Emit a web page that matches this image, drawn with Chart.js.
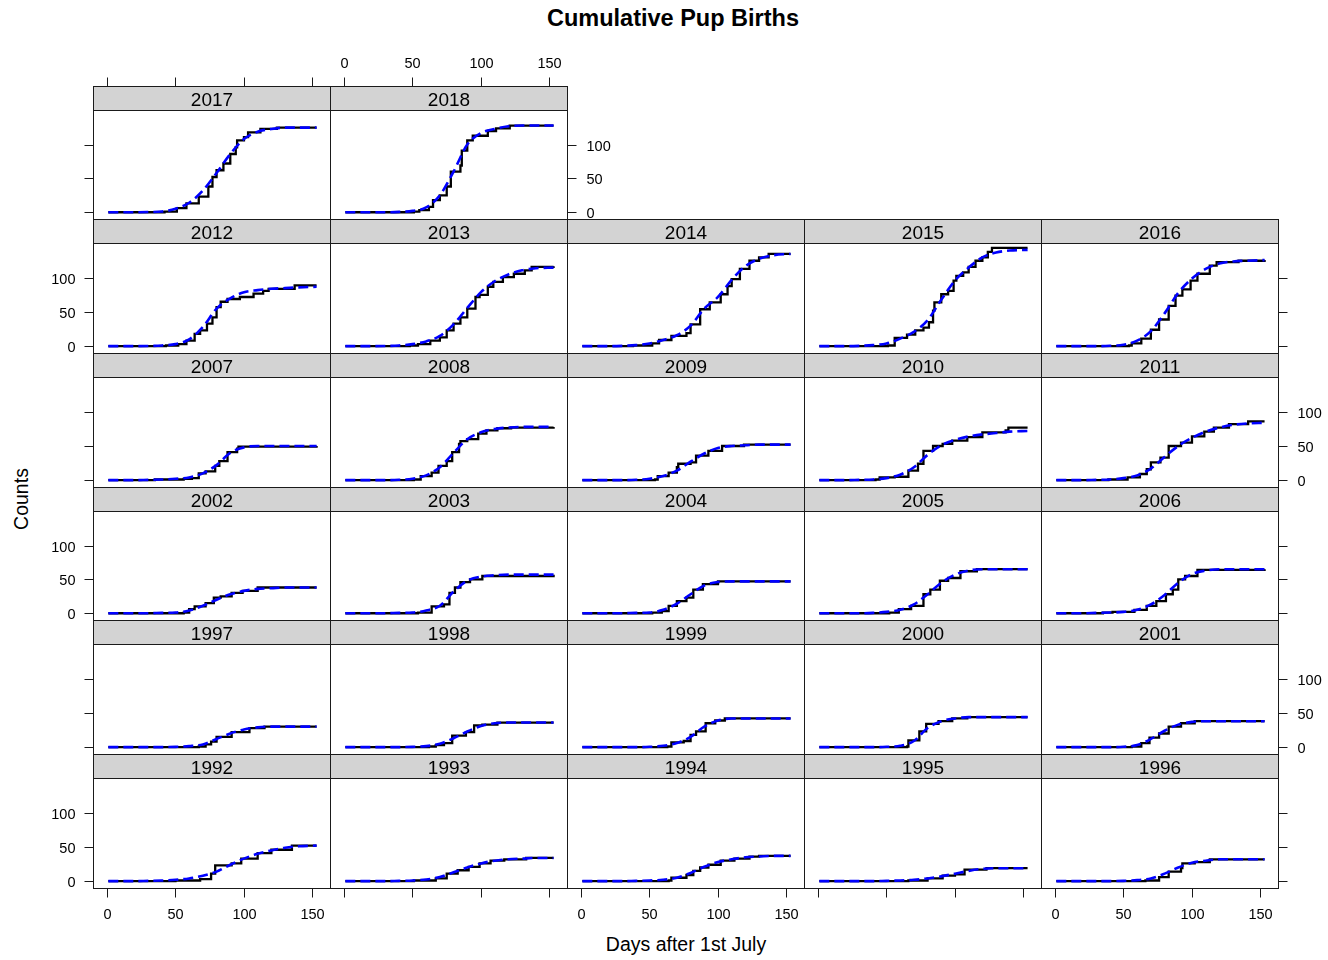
<!DOCTYPE html>
<html>
<head>
<meta charset="utf-8">
<script src="https://cdn.jsdelivr.net/npm/chart.js@4.4.1/dist/chart.umd.min.js"></script>
<style>
  body { margin: 0; background: #fff; width: 1328px; height: 960px; position: relative; overflow: hidden;
         font-family: 'Liberation Sans', Arial, sans-serif; color: #000; }
  canvas.pan { position: absolute; }
  .lbl { position: absolute; white-space: nowrap; line-height: 1; }
  #title { left: 673px; top: 7px; transform: translateX(-50%); font-size: 23.5px; font-weight: bold; }
  #xlab { left: 686px; top: 935px; transform: translateX(-50%); font-size: 19.5px; }
  #ylab { left: 22px; top: 499px; transform: translate(-50%, -50%) rotate(-90deg); font-size: 19.5px; }
</style>
</head>
<body>
<div id="title" class="lbl">Cumulative Pup Births</div>
<div id="xlab" class="lbl">Days after 1st July</div>
<div id="ylab" class="lbl">Counts</div>
<script>
// Jours où la courbe ajustée est lue
const fitDays = [1, 10, 20, 30, 40, 50, 60, 70, 80, 90, 100, 110, 120, 130, 140, 153];

// Naissances cumulées observées : [jour, total] à chaque marche
const obs2017 = [[1,0],[42,1],[51,6],[58,13],[67,23],[74,38],[77,52],[80,62],[85,72],[90,86],[94,96],[95,106],[100,111],[103,118],[112,123],[124,125],[153,125]];
const obs2018 = [[1,0],[51,1],[55,3],[62,8],[65,18],[70,25],[75,38],[78,60],[85,69],[86,91],[90,106],[94,113],[105,120],[111,124],[121,128],[153,128]];
const obs2012 = [[1,0],[43,1],[52,3],[58,8],[64,18],[68,23],[73,33],[77,42],[80,57],[83,65],[88,69],[97,72],[107,77],[114,81],[118,84],[137,89],[153,89]];
const obs2013 = [[1,0],[48,1],[54,3],[63,8],[70,13],[75,23],[80,33],[85,42],[90,55],[96,72],[99,75],[105,87],[109,94],[116,101],[124,106],[132,111],[137,116],[153,117]];
const obs2014 = [[1,0],[38,1],[52,4],[57,9],[66,15],[77,19],[80,32],[87,54],[94,64],[102,76],[107,88],[110,98],[116,113],[123,125],[130,130],[137,135],[153,135]];
const obs2015 = [[1,0],[51,1],[56,12],[65,17],[71,23],[77,27],[81,35],[84,52],[85,64],[90,76],[95,81],[99,96],[101,103],[106,108],[110,116],[115,125],[120,130],[124,138],[127,144],[153,144]];
const obs2016 = [[1,0],[54,1],[56,4],[63,11],[70,24],[76,39],[83,59],[88,74],[93,83],[99,96],[104,106],[113,118],[118,123],[134,125],[153,126]];
const obs2007 = [[1,0],[35,1],[56,2],[62,3],[67,10],[72,13],[79,21],[82,28],[88,41],[95,46],[96,49],[153,50]];
const obs2008 = [[1,0],[51,1],[56,6],[64,11],[69,21],[75,28],[79,41],[84,53],[85,57],[90,60],[98,68],[104,73],[112,76],[122,77],[153,78]];
const obs2009 = [[1,0],[54,1],[56,6],[64,11],[70,19],[71,24],[80,26],[84,36],[93,43],[103,50],[119,52],[153,52]];
const obs2010 = [[1,0],[42,1],[45,4],[56,5],[66,14],[73,24],[77,43],[84,50],[91,53],[98,58],[109,63],[120,70],[137,73],[139,77],[153,77]];
const obs2011 = [[1,0],[39,1],[53,4],[62,9],[67,16],[70,26],[77,33],[83,50],[92,55],[100,64],[109,71],[116,77],[127,82],[141,86],[153,86]];
const obs2002 = [[1,0],[56,1],[60,6],[64,10],[72,15],[78,23],[83,25],[91,30],[99,33],[110,38],[153,38]];
const obs2003 = [[1,0],[54,1],[64,10],[73,13],[77,30],[81,38],[85,46],[92,50],[101,55],[153,57]];
const obs2004 = [[1,0],[52,1],[59,3],[64,11],[70,18],[77,23],[82,35],[89,43],[100,47],[153,47]];
const obs2005 = [[1,0],[52,1],[59,6],[68,11],[77,28],[82,35],[89,48],[95,52],[104,62],[116,65],[153,65]];
const obs2006 = [[1,0],[35,1],[42,2],[58,5],[67,11],[74,18],[81,28],[86,35],[90,50],[95,55],[104,64],[153,65]];
const obs1997 = [[1,0],[67,1],[72,4],[76,8],[80,15],[91,22],[104,28],[115,30],[153,30]];
const obs1998 = [[1,0],[62,1],[67,3],[73,6],[79,17],[89,22],[95,32],[101,33],[112,36],[153,36]];
const obs1999 = [[1,0],[63,1],[66,7],[75,9],[80,18],[84,23],[91,35],[98,39],[105,42],[153,42]];
const obs2000 = [[1,0],[65,1],[66,10],[74,23],[79,34],[88,38],[98,42],[109,44],[153,44]];
const obs2001 = [[1,0],[56,1],[63,6],[69,14],[76,20],[83,30],[92,35],[102,38],[153,38]];
const obs1992 = [[1,0],[50,1],[68,3],[76,11],[79,23],[91,26],[98,33],[110,41],[120,46],[135,52],[153,52]];
const obs1993 = [[1,0],[51,1],[67,4],[75,11],[83,16],[91,21],[99,26],[107,30],[117,32],[133,34],[153,34]];
const obs1994 = [[1,0],[64,1],[66,5],[77,9],[82,15],[87,20],[93,24],[102,30],[112,33],[123,36],[130,37],[153,37]];
const obs1995 = [[1,0],[66,1],[80,4],[91,8],[100,10],[107,17],[123,19],[153,19]];
const obs1996 = [[1,0],[66,1],[76,6],[83,14],[92,19],[93,26],[102,28],[113,32],[153,32]];

// Courbe ajustée (tirets bleus), une valeur par élément de fitDays
const fit2017 = [0,0,0,0.3,1,5,14,32,58,86,108,119,123,125,125,125];
const fit2018 = [0,0,0,0,0.5,2,7,25,60,100,117,123,127,128,128,128];
const fit2012 = [0,0,0,0.3,1,3,10,28,55,70,79,82,84,85,86,87];
const fit2013 = [0,0,0,0.3,1,3,7,15,32,56,79,95,105,111,114,115];
const fit2014 = [0,0,0,0.5,1.5,4,9,16,30,55,72,97,117,128,133,135];
const fit2015 = [0,0,0,0.5,1.5,4,11,21,38,68,96,115,130,137,140,141];
const fit2016 = [0,0,0,0,0.5,2,8,22,48,78,99,113,121,124,125,126];
const fit2007 = [0,0,0,0.5,1,2,4,10,22,40,48,50,50,50,50,50];
const fit2008 = [0,0,0,0,0.5,2,7,19,40,60,70,75,77,78,78,78];
const fit2009 = [0,0,0,0,0.5,2,6,14,27,39,47,50,51,52,52,52];
const fit2010 = [0,0,0,0.5,1,3,8,19,37,51,59,64,67,69,71,72];
const fit2011 = [0,0,0,0.5,1,3,7,17,34,50,62,71,77,81,83,84];
const fit2002 = [0,0,0,0,0.5,1,4,11,20,28,33,36,37,38,38,38];
const fit2003 = [0,0,0,0,0.5,1,4,11,32,48,54,56,57,57,57,57];
const fit2004 = [0,0,0,0,0.5,1,5,14,28,41,46,47,47,47,47,47];
const fit2005 = [0,0,0,0,0.5,2,5,13,28,45,57,63,65,65,65,65];
const fit2006 = [0,0,0,0.5,1,2,5,13,27,45,58,63,65,65,65,65];
const fit1997 = [0,0,0,0,0,0.5,1.5,4,12,20,26,29,30,30,30,30];
const fit1998 = [0,0,0,0,0,0.5,1.5,5,13,23,31,35,36,36,36,36];
const fit1999 = [0,0,0,0,0,0.5,2,6,15,30,39,42,42,42,42,42];
const fit2000 = [0,0,0,0,0,0.5,2,9,28,38,42,44,44,44,44,44];
const fit2001 = [0,0,0,0,0,0.5,3,12,24,33,37,38,38,38,38,38];
const fit1992 = [0,0,0,0.5,1,2,4,8,14,24,33,40,45,49,51,52];
const fit1993 = [0,0,0,0,0.5,1,2.5,6,13,20,26,30,32,33,34,34];
const fit1994 = [0,0,0,0,0.5,1,2,5,12,21,28,32,35,36,37,37];
const fit1995 = [0,0,0,0,0,0.5,1,2,4,7,11,15,18,19,19,19];
const fit1996 = [0,0,0,0,0,0.5,1.5,4,11,20,27,30,32,32,32,32];

// Disposition des panneaux, ligne du haut en premier
const panelRows = [
  [2017, 2018],
  [2012, 2013, 2014, 2015, 2016],
  [2007, 2008, 2009, 2010, 2011],
  [2002, 2003, 2004, 2005, 2006],
  [1997, 1998, 1999, 2000, 2001],
  [1992, 1993, 1994, 1995, 1996]
];
const xTicks = [0, 50, 100, 150];
const yTicks = [0, 50, 100];

const obsByYear = {
  1992: obs1992, 1993: obs1993, 1994: obs1994, 1995: obs1995, 1996: obs1996,
  1997: obs1997, 1998: obs1998, 1999: obs1999, 2000: obs2000, 2001: obs2001,
  2002: obs2002, 2003: obs2003, 2004: obs2004, 2005: obs2005, 2006: obs2006,
  2007: obs2007, 2008: obs2008, 2009: obs2009, 2010: obs2010, 2011: obs2011,
  2012: obs2012, 2013: obs2013, 2014: obs2014, 2015: obs2015, 2016: obs2016,
  2017: obs2017, 2018: obs2018
};
const fitByYear = {
  1992: fit1992, 1993: fit1993, 1994: fit1994, 1995: fit1995, 1996: fit1996,
  1997: fit1997, 1998: fit1998, 1999: fit1999, 2000: fit2000, 2001: fit2001,
  2002: fit2002, 2003: fit2003, 2004: fit2004, 2005: fit2005, 2006: fit2006,
  2007: fit2007, 2008: fit2008, 2009: fit2009, 2010: fit2010, 2011: fit2011,
  2012: fit2012, 2013: fit2013, 2014: fit2014, 2015: fit2015, 2016: fit2016,
  2017: fit2017, 2018: fit2018
};

// Géométrie de la grille (pixels)
const M = 60;                 // marge transparente autour de chaque canvas
const colLeft = [93, 330, 567, 804, 1041];
const panelW = 237;
const stripTop = [86, 219, 353, 487, 620, 754];
const plotBottom = [219, 353, 487, 620, 754, 888];
const STRIP = 24;
const TICK = 9;
const FONT = "'Liberation Sans', Arial, sans-serif";

// Plugin : bandeau, cadre, graduations façon lattice
const latticePlugin = {
  id: 'lattice',
  afterDraw(chart, args, o) {
    const ctx = chart.ctx, a = chart.chartArea;
    const sx = chart.scales.x, sy = chart.scales.y;
    const L = a.left + 0.5, R = a.left + panelW + 0.5;
    const T = Math.round(a.top) + 0.5, B = Math.round(a.bottom) + 0.5;
    ctx.save();
    // bandeau
    ctx.fillStyle = '#d3d3d3';
    ctx.fillRect(L, T - STRIP, R - L, STRIP);
    ctx.strokeStyle = '#1a1a1a';
    ctx.lineWidth = 1;
    ctx.strokeRect(L, T - STRIP, R - L, B - T + STRIP);
    ctx.beginPath(); ctx.moveTo(L, T); ctx.lineTo(R, T); ctx.stroke();
    ctx.fillStyle = '#000';
    ctx.font = '19px ' + FONT;
    ctx.textAlign = 'center';
    ctx.textBaseline = 'alphabetic';
    ctx.fillText(String(o.year), (L + R) / 2, T - STRIP + 19.5);

    ctx.font = '14.5px ' + FONT;
    ctx.beginPath();
    if (o.bottom) {
      xTicks.forEach(v => {
        const px = Math.round(sx.getPixelForValue(v)) + 0.5;
        ctx.moveTo(px, B); ctx.lineTo(px, B + TICK);
        if (o.bottomLab) ctx.fillText(String(v), px, B + 30.5);
      });
    }
    if (o.top) {
      const top = T - STRIP;
      xTicks.forEach(v => {
        const px = Math.round(sx.getPixelForValue(v)) + 0.5;
        ctx.moveTo(px, top); ctx.lineTo(px, top - TICK);
        if (o.topLab) ctx.fillText(String(v), px, top - 18.5);
      });
    }
    if (o.left) {
      ctx.textAlign = 'right';
      yTicks.forEach(v => {
        const py = Math.round(sy.getPixelForValue(v)) + 0.5;
        ctx.moveTo(L, py); ctx.lineTo(L - TICK, py);
        if (o.leftLab) ctx.fillText(String(v), L - 18, py + 5.2);
      });
    }
    if (o.right) {
      ctx.textAlign = 'left';
      yTicks.forEach(v => {
        const py = Math.round(sy.getPixelForValue(v)) + 0.5;
        ctx.moveTo(R, py); ctx.lineTo(R + TICK, py);
        if (o.rightLab) ctx.fillText(String(v), R + 19, py + 5.2);
      });
    }
    ctx.stroke();
    ctx.restore();
  }
};

function makePanel(year, r, c, nCols) {
  const plotH = plotBottom[r] - stripTop[r] - STRIP;
  const canvas = document.createElement('canvas');
  canvas.className = 'pan';
  canvas.width = panelW + 2 * M;
  canvas.height = STRIP + plotH + 2 * M;
  canvas.style.left = (colLeft[c] - M) + 'px';
  canvas.style.top = (stripTop[r] - M) + 'px';
  document.body.appendChild(canvas);

  const fit = fitByYear[year].map((v, i) => [fitDays[i], v]);
  const axes = {
    year: year,
    bottom: r === panelRows.length - 1, bottomLab: c % 2 === 0,
    top: r === 0, topLab: c % 2 === 1,
    left: c === 0, leftLab: r % 2 === 1,
    right: c === nCols - 1, rightLab: r % 2 === 0
  };

  new Chart(canvas, {
    type: 'line',
    data: {
      datasets: [{
        data: fit,
        borderColor: '#0000ff',
        borderWidth: 2.6,
        borderDash: [10, 5],
        cubicInterpolationMode: 'monotone',
        pointRadius: 0,
        fill: false
      }, {
        data: obsByYear[year],
        borderColor: '#000000',
        borderWidth: 2.3,
        stepped: true,
        pointRadius: 0,
        fill: false
      }]
    },
    options: {
      responsive: false,
      animation: false,
      devicePixelRatio: 1,
      layout: { padding: { left: M, right: M, top: M + STRIP, bottom: M } },
      scales: {
        x: { type: 'linear', min: -10.2, max: 162.8, display: false },
        y: { type: 'linear', min: -10, max: 151, display: false }
      },
      plugins: {
        legend: { display: false },
        tooltip: { enabled: false },
        lattice: axes
      }
    },
    plugins: [latticePlugin]
  });
}

panelRows.forEach((row, r) => {
  row.forEach((year, c) => makePanel(year, r, c, row.length));
});
</script>
</body>
</html>
